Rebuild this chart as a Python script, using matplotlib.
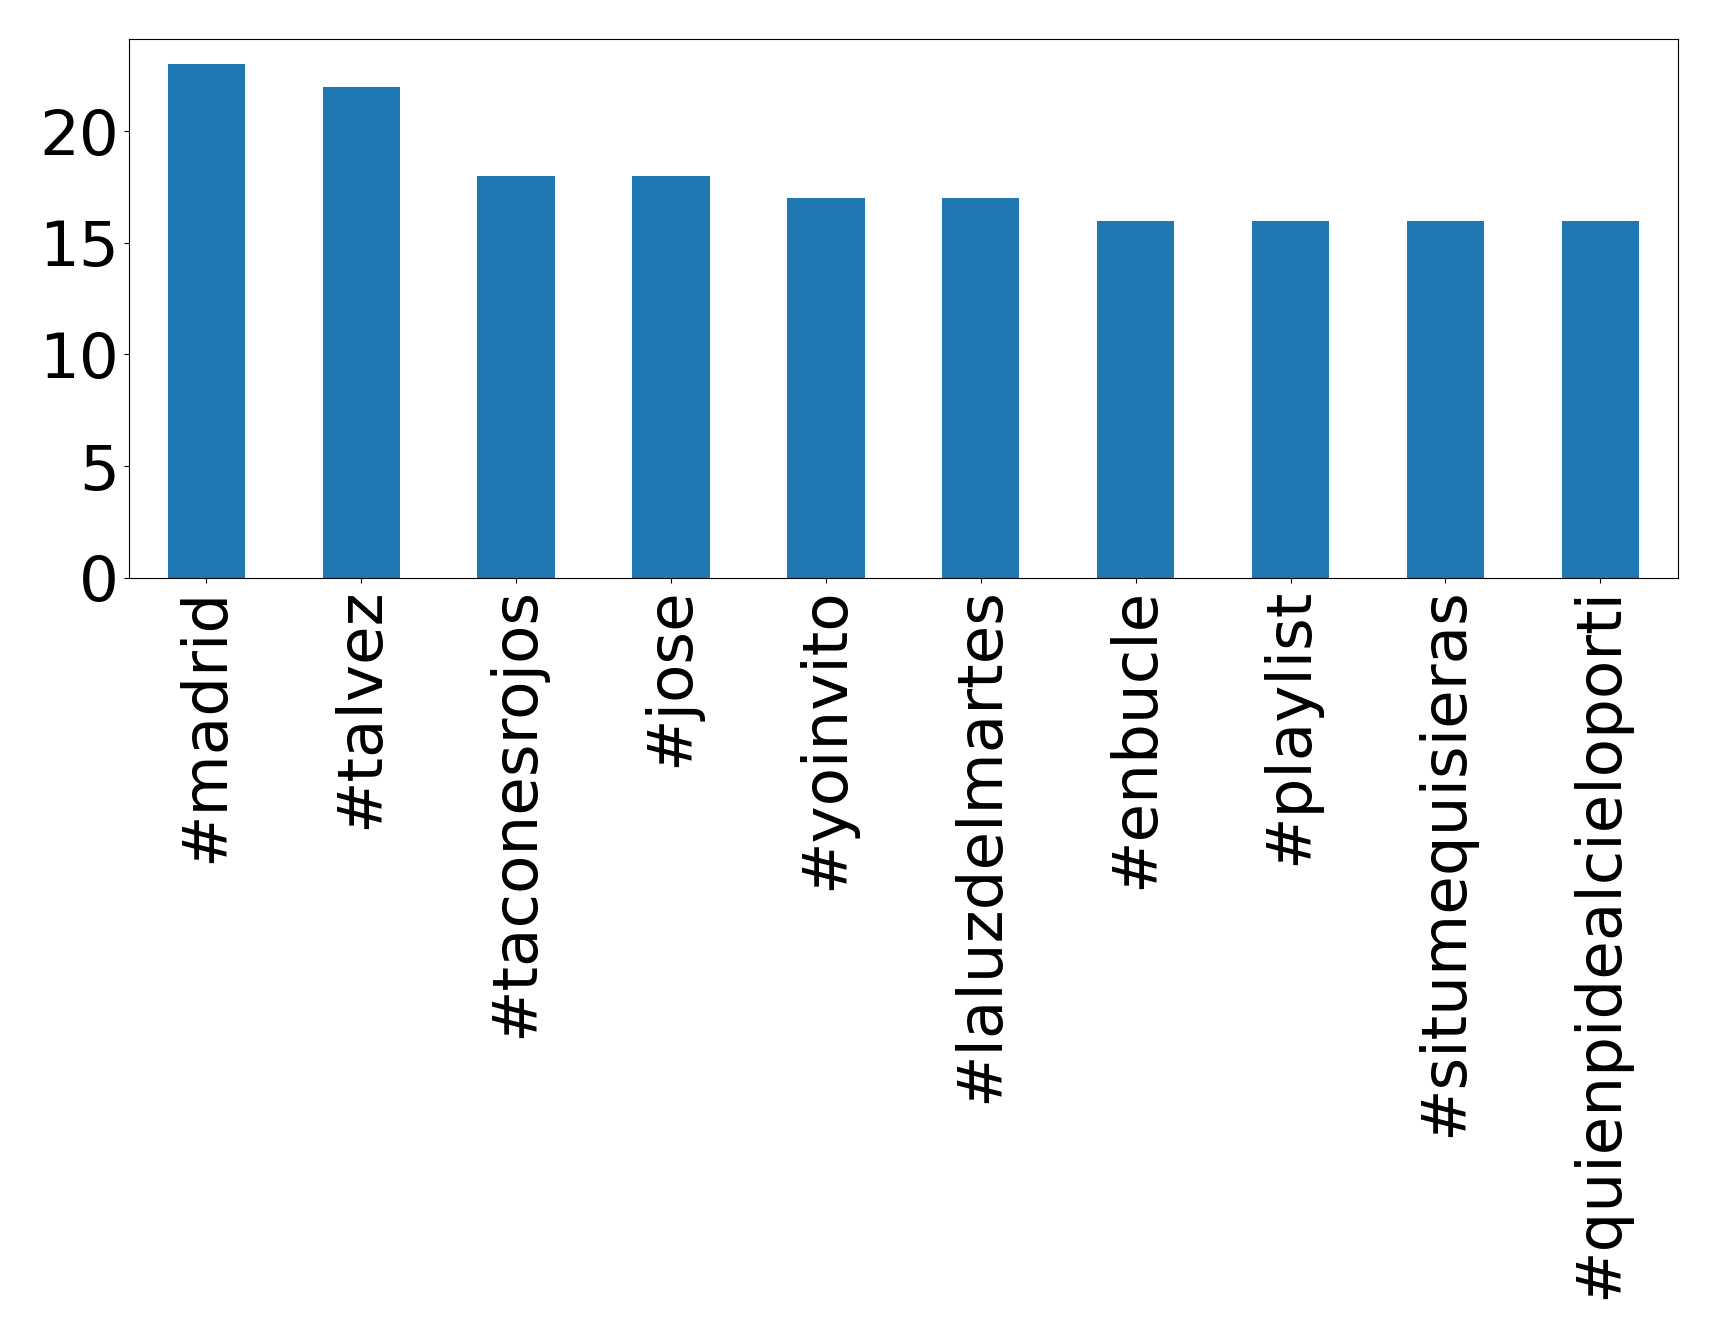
import matplotlib
matplotlib.use("Agg")
import matplotlib.pyplot as plt

# Hashtags más usados y su frecuencia
hashtags = ['#madrid', '#talvez', '#taconesrojos', '#jose', '#yoinvito',
            '#laluzdelmartes', '#enbucle', '#playlist', '#situmequisieras',
            '#quienpidealcieloporti']
conteos = [23, 22, 18, 18, 17, 17, 16, 16, 16, 16]

fig = plt.figure(figsize=(17.19, 13.37), dpi=100)
ax = fig.add_axes([0.075, 0.568, 0.901, 0.403])

x = range(len(hashtags))
ax.bar(x, conteos, width=0.5, color='#1f77b4')
ax.set_xlim(-0.5, len(hashtags) - 0.5)
ax.set_ylim(0, 24.15)
ax.set_xticks(list(x))
ax.set_xticklabels(hashtags, rotation=90)
ax.set_yticks([0, 5, 10, 15, 20])
ax.tick_params(axis='both', labelsize=45.2)

fig.savefig('out.png', dpi=100)
